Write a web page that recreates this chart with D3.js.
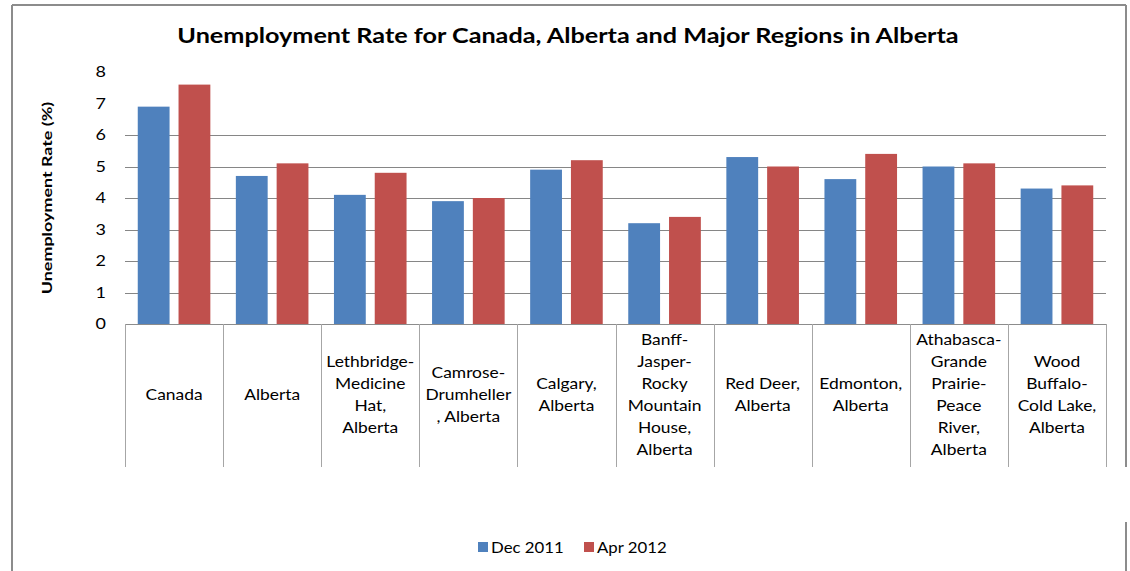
<!DOCTYPE html>
<html>
<head>
<meta charset="utf-8">
<script src="https://cdn.jsdelivr.net/npm/d3@7"></script>
<style>
  body { margin: 0; background: #fff; }
  svg { display: block; font-family: Lato, "Open Sans", sans-serif; }
</style>
</head>
<body>
<svg id="chart" width="1130" height="571"></svg>
<script>
// category tick labels, already broken into lines as in the original
const categories = [
  ["Canada"],
  ["Alberta"],
  ["Lethbridge-", "Medicine", "Hat,", "Alberta"],
  ["Camrose-", "Drumheller", ", Alberta"],
  ["Calgary,", "Alberta"],
  ["Banff-", "Jasper-", "Rocky", "Mountain", "House,", "Alberta"],
  ["Red Deer,", "Alberta"],
  ["Edmonton,", "Alberta"],
  ["Athabasca-", "Grande", "Prairie-", "Peace", "River,", "Alberta"],
  ["Wood", "Buffalo-", "Cold Lake,", "Alberta"],
];
const seriesNames = ["Dec 2011", "Apr 2012"];
const dec2011 = [6.9, 4.7, 4.1, 3.9, 4.9, 3.2, 5.3, 4.6, 5.0, 4.3];
const apr2012 = [7.6, 5.1, 4.8, 4.0, 5.2, 3.4, 5.0, 5.4, 5.1, 4.4];
const yTicks = [0, 1, 2, 3, 4, 5, 6, 7, 8];
const gridTicks = [1, 2, 3, 4, 5, 6];
const colors = ["#4F81BD", "#C0504D"];

const svg = d3.select("#chart");
const plot = { left: 125, right: 1106, top: 72, bottom: 324 };
// the source text looks a bit wider than Lato, so stretch it sideways
const stretch = 1.2;

// outer frame (right edge has a gap near the legend, like the source)
const frame = svg.append("g").attr("stroke", "#8c8c8c").attr("stroke-width", 2);
frame.append("line").attr("x1", 12).attr("x2", 12).attr("y1", 5).attr("y2", 571);
frame.append("line").attr("x1", 12).attr("x2", 1126).attr("y1", 5).attr("y2", 5);
frame.append("line").attr("x1", 1126).attr("x2", 1126).attr("y1", 5).attr("y2", 467);
frame.append("line").attr("x1", 1126).attr("x2", 1126).attr("y1", 522).attr("y2", 571);

svg.append("text")
  .attr("transform", `translate(568,43) scale(${stretch},1)`)
  .attr("text-anchor", "middle")
  .attr("font-size", 21)
  .attr("font-weight", "bold")
  .attr("fill", "#000")
  .text("Unemployment Rate for Canada, Alberta and Major Regions in Alberta");

const y = d3.scaleLinear().domain([0, 8]).range([plot.bottom, plot.top]);

const x0 = d3.scaleBand()
  .domain(d3.range(categories.length))
  .range([plot.left, plot.right])
  .paddingInner(0.26)
  .paddingOuter(0.13);

const x1 = d3.scaleBand()
  .domain(d3.range(seriesNames.length))
  .range([0, x0.bandwidth()])
  .paddingInner(0.22);

// gridlines
svg.append("g")
  .selectAll("line")
  .data(gridTicks)
  .join("line")
  .attr("x1", plot.left)
  .attr("x2", plot.right)
  .attr("y1", (d) => Math.round(y(d)) + 0.5)
  .attr("y2", (d) => Math.round(y(d)) + 0.5)
  .attr("stroke", "#868686")
  .attr("stroke-width", 1);

// y tick labels
svg.append("g")
  .selectAll("text")
  .data(yTicks)
  .join("text")
  .attr("transform", (d) => `translate(106,${y(d) + 5}) scale(${stretch},1)`)
  .attr("text-anchor", "end")
  .attr("font-size", 15)
  .attr("fill", "#000")
  .text((d) => d);

svg.append("text")
  .attr("transform", `translate(52,${(plot.top + plot.bottom) / 2}) rotate(-90) scale(1.28,1)`)
  .attr("text-anchor", "middle")
  .attr("font-size", 14)
  .attr("font-weight", "bold")
  .text("Unemployment Rate (%)");

// bars
const series = [dec2011, apr2012];
const groups = svg.append("g")
  .selectAll("g")
  .data(categories.map((c, i) => i))
  .join("g")
  .attr("transform", (i) => `translate(${x0(i)},0)`);

groups.selectAll("rect")
  .data((i) => series.map((s, k) => ({ k, v: s[i] })))
  .join("rect")
  .attr("x", (d) => x1(d.k))
  .attr("y", (d) => y(d.v))
  .attr("width", x1.bandwidth())
  .attr("height", (d) => y(0) - y(d.v))
  .attr("fill", (d) => colors[d.k]);

// category box below the baseline
const boxBottom = 467;
const edges = d3.range(categories.length + 1).map((i) =>
  plot.left + i * x0.step()
);
const box = svg.append("g").attr("stroke", "#a6a6a6").attr("stroke-width", 1);
box.append("line")
  .attr("x1", plot.left).attr("x2", plot.right)
  .attr("y1", plot.bottom + 0.5).attr("y2", plot.bottom + 0.5)
  .attr("stroke", "#8c8c8c");
box.selectAll("line.sep")
  .data(edges)
  .join("line")
  .attr("class", "sep")
  .attr("x1", (d) => Math.round(d) + 0.5)
  .attr("x2", (d) => Math.round(d) + 0.5)
  .attr("y1", plot.bottom)
  .attr("y2", boxBottom);

// category labels
const lineH = 22;
const labelMid = 395;
svg.append("g")
  .selectAll("text")
  .data(categories)
  .join("text")
  .attr("text-anchor", "middle")
  .attr("font-size", 14.5)
  .attr("fill", "#000")
  .each(function (lines, i) {
    const cx = plot.left + (i + 0.5) * x0.step();
    const y0 = labelMid - ((lines.length - 1) * lineH) / 2 + 5;
    d3.select(this)
      .attr("transform", `translate(${cx},${y0}) scale(${stretch},1)`)
      .selectAll("tspan")
      .data(lines)
      .join("tspan")
      .attr("x", 0)
      .attr("y", (d, j) => j * lineH)
      .text((d) => d);
  });

// legend
const legend = svg.append("g").attr("font-size", 15);
const legendX = [478, 584];
seriesNames.forEach((name, k) => {
  legend.append("rect")
    .attr("x", legendX[k])
    .attr("y", 542)
    .attr("width", 10)
    .attr("height", 10)
    .attr("fill", colors[k]);
  legend.append("text")
    .attr("transform", `translate(${legendX[k] + 13},553) scale(1.12,1)`)
    .text(name);
});
</script>
</body>
</html>
